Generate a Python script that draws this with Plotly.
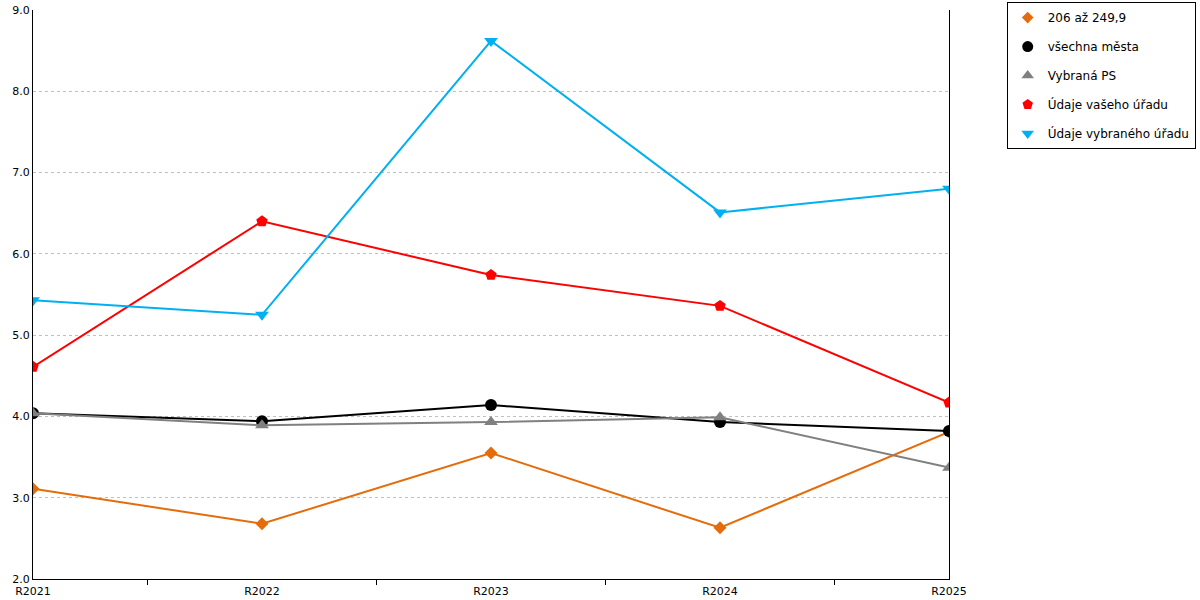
import plotly.graph_objects as go

# roky (kategorie osy x)
years = ["R2021", "R2022", "R2023", "R2024", "R2025"]

# hodnoty jednotlivých řad
grp_206_249 = [3.11, 2.68, 3.55, 2.63, 3.81]
all_cities = [4.04, 3.94, 4.14, 3.93, 3.82]
selected_ps = [4.04, 3.89, 3.93, 3.99, 3.37]
your_office = [4.61, 6.40, 5.74, 5.36, 4.17]
selected_office = [5.43, 5.25, 8.62, 6.51, 6.80]

series = [
    ("206 až 249,9", grp_206_249, "#E46C0A", "diamond", 10),
    ("všechna města", all_cities, "#000000", "circle", 12),
    ("Vybraná PS", selected_ps, "#808080", "triangle-up", 12),
    ("Údaje vašeho úřadu", your_office, "#FF0000", "pentagon", 12),
    ("Údaje vybraného úřadu", selected_office, "#00B0F0", "triangle-down", 12),
]

fig = go.Figure()
for i, (name, vals, color, symbol, size) in enumerate(series):
    fig.add_trace(go.Scatter(
        x=years, y=vals, mode="lines+markers", name=name,
        line=dict(color=color, width=2),
        marker=dict(color=color, symbol=symbol, size=size),
        showlegend=False, hovertemplate="%{x}: %{y}<extra>" + name + "</extra>"))
    # legenda jen se symbolem
    fig.add_trace(go.Scatter(
        x=[None], y=[None], mode="markers", name=name, legendgroup="g%d" % i,
        marker=dict(color=color, symbol=symbol, size=size - 1)))

fig.update_layout(
    width=1200, height=600,
    margin=dict(l=33, r=251, t=10, b=21, autoexpand=False),
    paper_bgcolor="white", plot_bgcolor="white",
    font=dict(family="DejaVu Sans", size=11, color="#000000"),
    legend=dict(x=1.063, y=1.014, xanchor="left", yanchor="top",
                bordercolor="#000000", borderwidth=1,
                font=dict(size=12), itemwidth=30, tracegroupgap=10),
)
fig.update_xaxes(
    type="category", range=[0, 4], showgrid=False, automargin=False,
    showline=True, linecolor="#000000", linewidth=1,
    ticks="outside", tickson="boundaries", ticklen=5, tickcolor="#000000",
    ticklabelstandoff=2,
)
fig.update_yaxes(
    range=[2, 9], dtick=1, tickformat=".1f", automargin=False,
    showline=True, linecolor="#000000", linewidth=1, mirror=True,
    showgrid=True, gridcolor="#C0C0C0", gridwidth=1, griddash="dot",
    zeroline=False, ticks="",
)

# stránka bez okraje, aby graf seděl na 1200x600
fig.write_html("out.html", config={"displayModeBar": False},
               post_script="document.body.style.margin='0';")
